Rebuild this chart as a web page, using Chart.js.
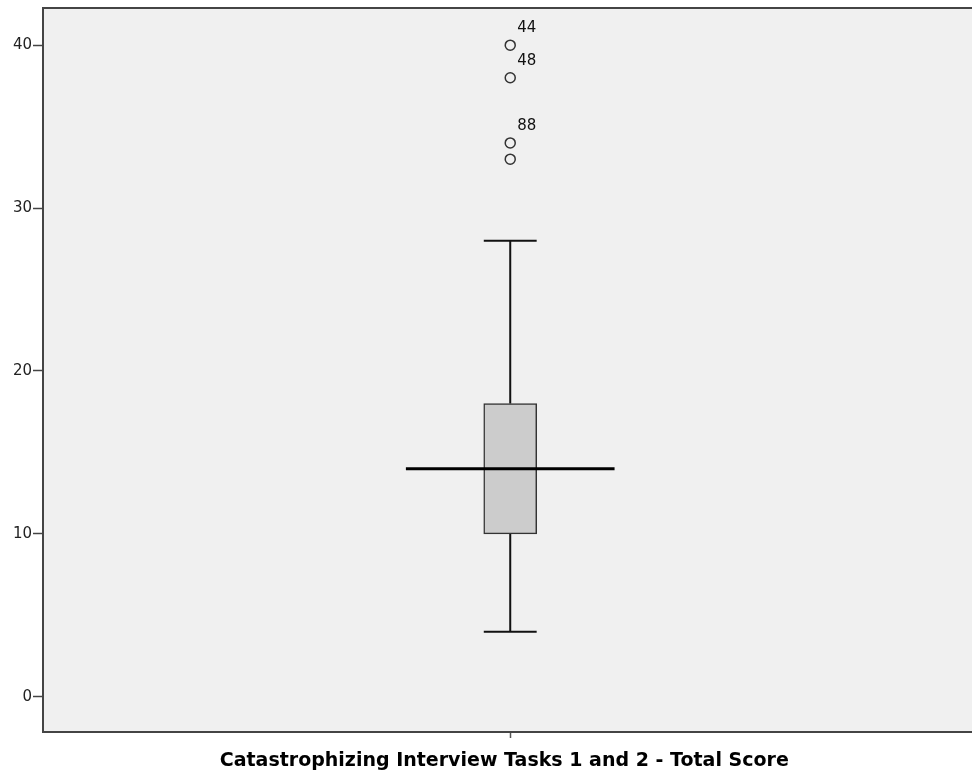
<!DOCTYPE html>
<html>
<head>
<meta charset="utf-8">
<script src="https://cdn.jsdelivr.net/npm/chart.js@4"></script>
<style>
  body { margin: 0; background: #ffffff; overflow: hidden; }
  #wrap { width: 972px; height: 778px; }
  canvas { display: block; }
</style>
</head>
<body>
<div id="wrap"><canvas id="boxChart" width="972" height="778"></canvas></div>
<script>
// ===== boxplot data =====
const variableName = 'Catastrophizing Interview Tasks 1 and 2 - Total Score';
const quartiles = [10, 18];          // Q1, Q3
const medianValue = [14];
const whiskers = [4, 28];            // low, high
const outlierValues = [40, 38, 34, 33];
const outlierCases = ['44', '48', '88', ''];
const yTicks = [0, 10, 20, 30, 40];

// half widths in x-axis units (styling only)
const boxHalf = 0.0566;
const medianHalf = 0.2233;

const fontFamily = '"DejaVu Sans", Verdana, sans-serif';

// plot background + frame lines, run out to the right edge of the canvas
const framePlugin = {
    id: 'frame',
    beforeDraw(chart) {
        const { ctx, chartArea: a } = chart;
        ctx.save();
        ctx.fillStyle = '#f0f0f0';
        ctx.fillRect(a.left, a.top, chart.width - a.left, a.bottom - a.top);
        ctx.strokeStyle = '#444444';
        ctx.lineWidth = 2;
        ctx.beginPath();
        ctx.moveTo(a.left, a.top);
        ctx.lineTo(chart.width, a.top);
        ctx.stroke();
        ctx.restore();
    },
    afterDraw(chart) {
        const { ctx, chartArea: a } = chart;
        ctx.save();
        ctx.strokeStyle = '#444444';
        ctx.lineWidth = 2;
        ctx.beginPath();
        ctx.moveTo(a.right - 1, a.bottom);
        ctx.lineTo(chart.width, a.bottom);
        ctx.stroke();
        ctx.restore();
    }
};

// case number labels next to the outliers
const caseLabelPlugin = {
    id: 'caseLabels',
    afterDatasetsDraw(chart) {
        const idx = chart.data.datasets.findIndex(d => d.label === 'outliers');
        const meta = chart.getDatasetMeta(idx);
        const ctx = chart.ctx;
        ctx.save();
        ctx.font = '15px ' + fontFamily;
        ctx.fillStyle = '#111111';
        ctx.textBaseline = 'middle';
        meta.data.forEach((pt, i) => {
            if (outlierCases[i]) ctx.fillText(outlierCases[i], pt.x + 7, pt.y - 17);
        });
        ctx.restore();
    }
};

function segment(x1, y1, x2, y2) {
    return [{ x: x1, y: y1 }, { x: x2, y: y2 }];
}

const lineStyle = {
    type: 'line',
    borderColor: '#111111',
    borderWidth: 2,
    pointRadius: 0,
    fill: false,
    order: 1
};

new Chart(document.getElementById('boxChart'), {
    data: {
        datasets: [
            { ...lineStyle, label: 'upper whisker', data: segment(0, quartiles[1], 0, whiskers[1]) },
            { ...lineStyle, label: 'lower whisker', data: segment(0, whiskers[0], 0, quartiles[0]) },
            { ...lineStyle, label: 'upper cap', data: segment(-boxHalf, whiskers[1], boxHalf, whiskers[1]) },
            { ...lineStyle, label: 'lower cap', data: segment(-boxHalf, whiskers[0], boxHalf, whiskers[0]) },
            {
                type: 'bar',
                label: 'box',
                data: [{ x: 0, y: quartiles }],
                backgroundColor: '#cccccc',
                borderColor: '#333333',
                borderWidth: 1.5,
                borderSkipped: false,
                barThickness: 53,
                grouped: false,
                order: 2
            },
            { ...lineStyle, label: 'median', borderWidth: 3, borderColor: '#000000', order: 0,
              data: segment(-medianHalf, medianValue[0], medianHalf, medianValue[0]) },
            {
                type: 'scatter',
                label: 'outliers',
                data: outlierValues.map(v => ({ x: 0, y: v })),
                pointStyle: 'circle',
                pointRadius: 5,
                pointBorderWidth: 1.5,
                pointBorderColor: '#333333',
                pointBackgroundColor: 'rgba(0,0,0,0)',
                order: 0
            }
        ]
    },
    options: {
        responsive: false,
        animation: false,
        layout: { padding: { top: 8, right: 0, left: 0, bottom: 0 } },
        plugins: {
            legend: { display: false },
            tooltip: { enabled: false }
        },
        scales: {
            x: {
                type: 'linear',
                offset: false,
                min: -1,
                max: 0.9744,
                afterBuildTicks: s => { s.ticks = [{ value: 0 }]; },
                afterFit: s => { s.height = 46; s.paddingRight = 0; s.paddingLeft = 0; },
                grid: { offset: false, drawOnChartArea: false, tickLength: 6, color: '#555555', tickWidth: 1.5 },
                border: { color: '#444444', width: 2 },
                ticks: { display: false },
                title: {
                    display: true,
                    text: variableName,
                    color: '#000000',
                    font: { family: fontFamily, size: 19, weight: 'bold' },
                    padding: { top: 4, bottom: 6 }
                }
            },
            y: {
                min: -2.16,
                max: 42.28,
                afterBuildTicks: s => { s.ticks = yTicks.map(v => ({ value: v })); },
                afterFit: s => { s.width = 43; s.paddingTop = 0; s.paddingBottom = 0; },
                grid: { drawOnChartArea: false, tickLength: 10, color: '#444444', tickWidth: 1.5 },
                border: { color: '#444444', width: 2 },
                ticks: {
                    color: '#222222',
                    padding: 1,
                    font: { family: fontFamily, size: 15 }
                }
            }
        }
    },
    plugins: [framePlugin, caseLabelPlugin]
});
</script>
</body>
</html>
